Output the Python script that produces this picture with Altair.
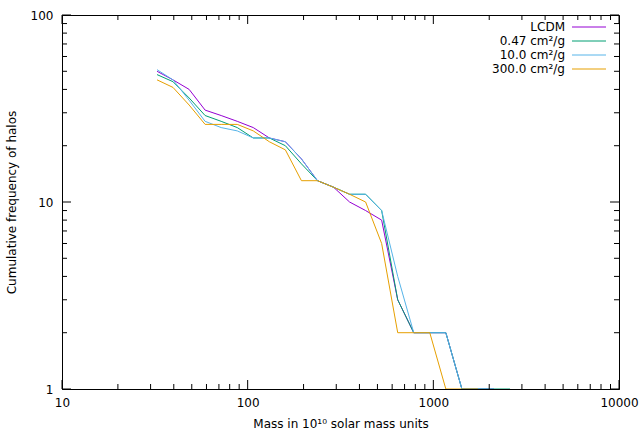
import altair as alt
import pandas as pd

# ---- data ----
mass = [32.5, 39.6, 48.4, 59.0, 72.0, 87.9, 107.2, 130.8, 159.6, 194.8, 237.7,
        290.0, 353.9, 431.8, 526.8, 642.9, 784.4, 957.0, 1167.8, 1425.0, 1739.0,
        2121.0, 2589.0]

lcdm = [50, 45, 40, 31, 29, 27, 25, 22, 21, 17, 13, 12, 10, 9, 8, 3, 2, 2, 2, 1, 1, 1]
cs047 = [48, 44, 36, 29, 27, 25, 22, 22, 20, 16, 13, 12, 11, 11, 9, 3, 2, 2, 2, 1, 1, 1, 1]
cs10 = [51, 45, 35, 27, 25, 24, 22, 22, 21, 17, 13, 12, 11, 11, 9, 4, 2, 2, 2, 1, 1, 1]
cs300 = [45, 41, 33, 26, 26, 26, 24, 21, 19, 13, 13, 12, 11, 10, 6, 2, 2, 2, 1, 1, 1]

series_names = ["LCDM", "0.47 cm²/g", "10.0 cm²/g", "300.0 cm²/g"]
series_values = [lcdm, cs047, cs10, cs300]
series_colors = ["#9400d3", "#009e73", "#56b4e9", "#e69f00"]

x_major = [10, 100, 1000, 10000]
x_minor = [20, 30, 40, 50, 60, 70, 80, 90, 200, 300, 400, 500, 600, 700, 800, 900,
           2000, 3000, 4000, 5000, 6000, 7000, 8000, 9000]
y_major = [1, 10, 100]
y_minor = [2, 3, 4, 5, 6, 7, 8, 9, 20, 30, 40, 50, 60, 70, 80, 90]

W, H = 557, 374
FONT = "DejaVu Sans"

xscale = alt.Scale(type="log", domain=[10, 10000], nice=False)
yscale = alt.Scale(type="log", domain=[1, 100], nice=False)

xaxis = alt.Axis(values=x_major, format="d", title="Mass in 10¹⁰ solar mass units",
                 ticks=False, tickSize=0, grid=False, labelPadding=8, titlePadding=10,
                 domainColor="black", labelColor="black", titleColor="black",
                 labelFont=FONT, titleFont=FONT, labelFontSize=12, titleFontSize=12,
                 titleFontWeight="normal", labelFlush=False)
yaxis = alt.Axis(values=y_major, format="d", title="Cumulative frequency of halos",
                 ticks=False, tickSize=0, grid=False, labelPadding=9, titlePadding=12,
                 domainColor="black", labelColor="black", titleColor="black",
                 labelFont=FONT, titleFont=FONT, labelFontSize=12, titleFontSize=12,
                 titleFontWeight="normal", labelFlush=False)

X = alt.X("m:Q", scale=xscale, axis=xaxis)
Y = alt.Y("v:Q", scale=yscale, axis=yaxis)

layers = []

# data lines (drawn in order)
for name, vals, col in zip(series_names, series_values, series_colors):
    df = pd.DataFrame({"m": mass[:len(vals)], "v": vals})
    layers.append(
        alt.Chart(df).mark_line(color=col, strokeWidth=1, clip=True).encode(x=X, y=Y)
    )

# inward ticks on all four sides
def xticks(vals, length):
    df = pd.DataFrame({"m": vals})
    bottom = alt.Chart(df).mark_rule(color="black", strokeWidth=1).encode(
        x=X, y=alt.value(H), y2=alt.value(H - length))
    top = alt.Chart(df).mark_rule(color="black", strokeWidth=1).encode(
        x=X, y=alt.value(0), y2=alt.value(length))
    return [bottom, top]

def yticks(vals, length):
    df = pd.DataFrame({"v": vals})
    left = alt.Chart(df).mark_rule(color="black", strokeWidth=1).encode(
        y=Y, x=alt.value(0), x2=alt.value(length))
    right = alt.Chart(df).mark_rule(color="black", strokeWidth=1).encode(
        y=Y, x=alt.value(W), x2=alt.value(W - length))
    return [left, right]

layers += xticks(x_major, 9) + xticks(x_minor, 5)
layers += yticks(y_major, 9) + yticks(y_minor, 5)

# gnuplot-style key (text right, sample line)
key_y = [12, 26, 40, 54]
for name, col, ky in zip(series_names, series_colors, key_y):
    tdf = pd.DataFrame({"label": [name]})
    layers.append(
        alt.Chart(tdf).mark_text(align="right", baseline="middle", font=FONT,
                                 fontSize=12, color="black").encode(
            text="label:N", x=alt.value(503), y=alt.value(ky))
    )
    layers.append(
        alt.Chart(tdf).mark_rule(color=col, strokeWidth=1).encode(
            x=alt.value(510), x2=alt.value(544), y=alt.value(ky))
    )

chart = alt.layer(*layers).properties(
    width=W, height=H,
    autosize=alt.AutoSizeParams(type="none"),
    padding={"left": 62, "top": 15, "right": 21, "bottom": 59},
    background="white",
).configure_view(stroke="black", strokeWidth=1)

chart.save("out.html", embed_options={"renderer": "svg", "actions": False})
